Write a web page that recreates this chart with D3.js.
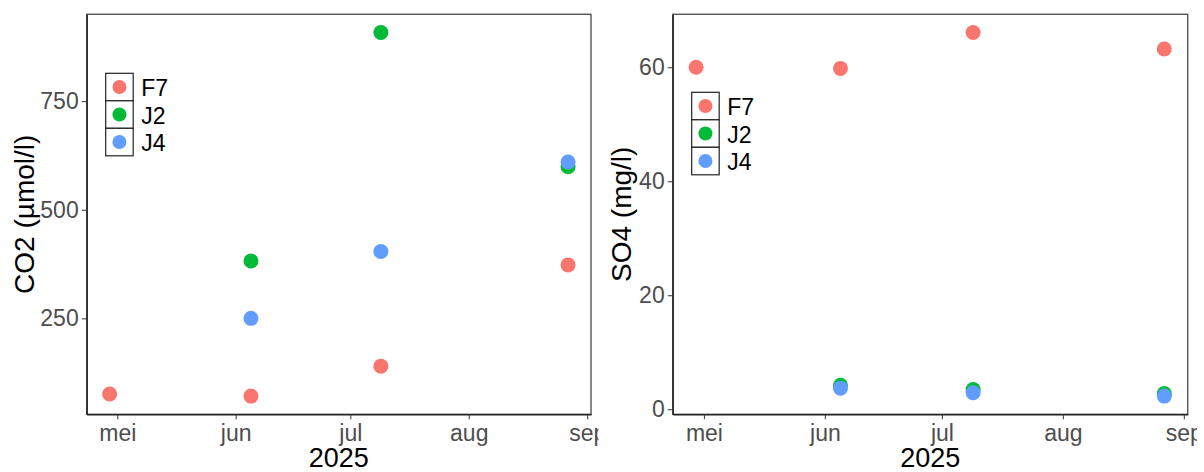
<!DOCTYPE html>
<html>
<head>
<meta charset="utf-8">
<script src="https://cdn.jsdelivr.net/npm/d3@7"></script>
<style>
  body { margin: 0; background: #fff; }
  svg { display: block; font-family: "Liberation Sans", Arial, sans-serif; }
</style>
</head>
<body>
<svg id="chart" width="1204" height="472"></svg>
<script>
// sampling dates and sites
var sites = ["F7", "J2", "J4"];
var siteColors = ["#F8766D", "#00BA38", "#619CFF"];
var sampleDates = ["2025-04-29", "2025-06-05", "2025-07-09", "2025-08-27"];

// CO2 (umol/l) per site, null = not sampled
var co2F7 = [76, 71, 140, 373];
var co2J2 = [null, 382, 908, 599];
var co2J4 = [null, 250, 404, 610];

// SO4 (mg/l)
var so4F7 = [60.0, 59.8, 66.1, 63.2];
var so4J2 = [null, 4.2, 3.45, 2.75];
var so4J4 = [null, 3.7, 2.9, 2.3];

var monthTicks = ["2025-05-01", "2025-06-01", "2025-07-01", "2025-08-01", "2025-09-01"];
var monthLabels = ["mei", "jun", "jul", "aug", "sep"];
var co2Ticks = [250, 500, 750];
var so4Ticks = [0, 20, 40, 60];

var parse = d3.timeParse("%Y-%m-%d");

function toPoints(series) {
    var pts = [];
    series.forEach(function(vals, s) {
        vals.forEach(function(v, i) {
            if (v != null) pts.push({ site: sites[s], date: parse(sampleDates[i]), value: v });
        });
    });
    return pts;
}

function expand(ext, f) {
    var pad = (ext[1] - ext[0]) * f;
    return [ext[0] - pad, ext[1] + pad];
}

var svg = d3.select("#chart");
var color = d3.scaleOrdinal().domain(sites).range(siteColors);

function drawPanel(opt) {
    var id = "clip" + opt.key;
    svg.append("clipPath").attr("id", id)
        .append("rect").attr("x", opt.clip[0]).attr("y", 0)
        .attr("width", opt.clip[1] - opt.clip[0]).attr("height", 472);

    var g = svg.append("g").attr("clip-path", "url(#" + id + ")");
    var data = toPoints(opt.series);

    var dExt = d3.extent(data, function(d) { return +d.date; });
    var x = d3.scaleTime()
        .domain(expand(dExt, 0.05).map(function(t) { return new Date(t); }))
        .range([opt.left, opt.right]);
    var y = d3.scaleLinear()
        .domain(expand(d3.extent(data, function(d) { return d.value; }), 0.05))
        .range([opt.bottom, opt.top]);

    // panel border
    g.append("rect")
        .attr("x", opt.left).attr("y", opt.top)
        .attr("width", opt.right - opt.left).attr("height", opt.bottom - opt.top)
        .attr("fill", "none").attr("stroke", "#555").attr("stroke-width", 1.4);

    // x axis
    var xa = g.append("g")
        .attr("transform", "translate(0," + opt.bottom + ")")
        .call(d3.axisBottom(x)
            .tickValues(monthTicks.map(parse))
            .tickSizeInner(5).tickSizeOuter(0).tickPadding(5)
            .tickFormat(function(d, i) { return monthLabels[i]; }));
    xa.select(".domain").attr("stroke", "#222").attr("stroke-width", 1.4);
    xa.selectAll(".tick line").attr("stroke", "#333");
    xa.selectAll(".tick text").attr("fill", "#4d4d4d").style("font-size", "23px");

    // y axis
    var ya = g.append("g")
        .attr("transform", "translate(" + opt.left + ",0)")
        .call(d3.axisLeft(y).tickValues(opt.ticks).tickSizeInner(5).tickSizeOuter(0).tickPadding(3));
    ya.select(".domain").attr("stroke", "#222").attr("stroke-width", 1.4);
    ya.selectAll(".tick line").attr("stroke", "#333");
    ya.selectAll(".tick text").attr("fill", "#4d4d4d").style("font-size", "23px");

    // points
    g.append("g").selectAll("circle")
        .data(data)
        .join("circle")
        .attr("cx", function(d) { return x(d.date); })
        .attr("cy", function(d) { return y(d.value); })
        .attr("r", 7.5)
        .attr("fill", function(d) { return color(d.site); });

    // titles
    g.append("text")
        .attr("x", (opt.left + opt.right) / 2).attr("y", 467)
        .attr("text-anchor", "middle").style("font-size", "27px").attr("fill", "#000")
        .text("2025");
    g.append("text")
        .attr("transform", "translate(" + opt.titleX + "," + ((opt.top + opt.bottom) / 2) + ") rotate(-90)")
        .attr("text-anchor", "middle").attr("dominant-baseline", "central")
        .style("font-size", "28px").attr("fill", "#000")
        .text(opt.title);

    // legend
    var key = 27.5;
    var lg = g.append("g").attr("transform", "translate(" + opt.legend[0] + "," + opt.legend[1] + ")");
    var items = lg.selectAll("g").data(sites).join("g")
        .attr("transform", function(d, i) { return "translate(0," + (i * key) + ")"; });
    items.append("rect")
        .attr("width", key).attr("height", key)
        .attr("fill", "#fff").attr("stroke", "#222").attr("stroke-width", 1.2);
    items.append("circle")
        .attr("cx", key / 2).attr("cy", key / 2).attr("r", 7)
        .attr("fill", function(d) { return color(d); });
    items.append("text")
        .attr("x", key + 8).attr("y", key / 2 + 1)
        .attr("dominant-baseline", "central")
        .style("font-size", "23px").attr("fill", "#000")
        .text(function(d) { return d; });
}

drawPanel({
    key: "co2", series: [co2F7, co2J2, co2J4], ticks: co2Ticks,
    title: "CO2 (\u00b5mol/l)",
    left: 86.7, right: 591, top: 14.3, bottom: 414.3,
    clip: [0, 598.5], titleX: 24, legend: [105.7, 73.3]
});

drawPanel({
    key: "so4", series: [so4F7, so4J2, so4J4], ticks: so4Ticks,
    title: "SO4 (mg/l)",
    left: 672.7, right: 1187.7, top: 14.3, bottom: 414.3,
    clip: [600, 1197], titleX: 621, legend: [691.7, 92.3]
});
</script>
</body>
</html>
